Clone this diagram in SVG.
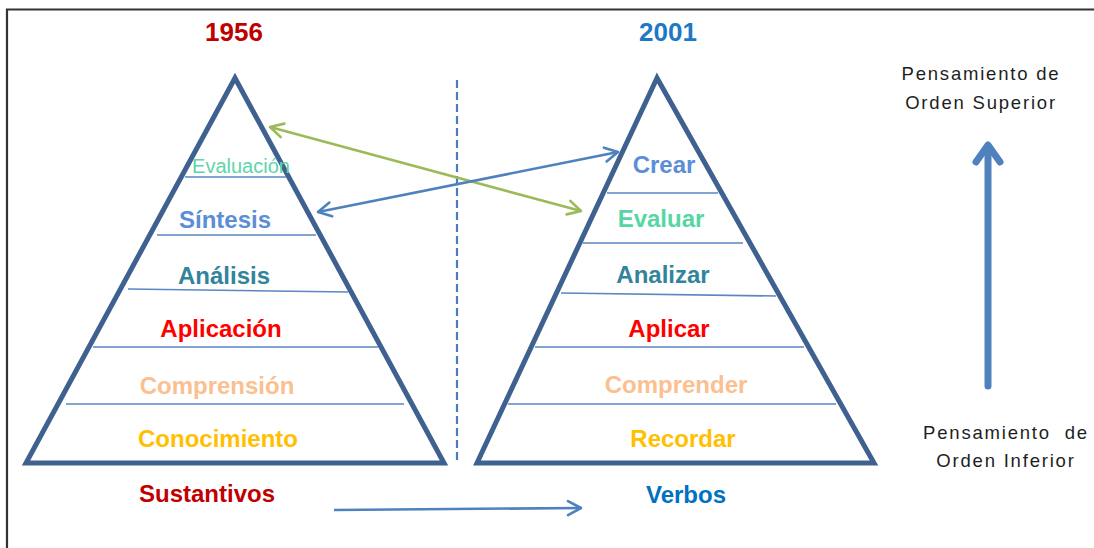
<svg xmlns="http://www.w3.org/2000/svg" width="1094" height="548" viewBox="0 0 1094 548">
  <style>
    .pyr { fill: none; stroke: #3F6190; stroke-width: 5; stroke-linejoin: miter; }
    .lvl { stroke: #5A86C2; stroke-width: 1.6; fill: none; }
    .lbl { font-family: "Liberation Sans", Arial, sans-serif; font-weight: bold; font-size: 24px; text-anchor: middle; }
    .thin { font-family: "Liberation Sans", Arial, sans-serif; font-size: 20px; text-anchor: middle; }
    .note { font-family: "Liberation Sans", Arial, sans-serif; font-size: 18.5px; letter-spacing: 1.8px; fill: #1E1E1E; text-anchor: middle; }
    .yr { font-family: "Liberation Sans", Arial, sans-serif; font-weight: bold; font-size: 26px; text-anchor: middle; }
    .conn { fill: none; stroke-width: 2.6; }
  </style>
  <defs>
    <marker id="headBlue" viewBox="-15 -9 17 18" markerWidth="17" markerHeight="18" markerUnits="userSpaceOnUse" orient="auto-start-reverse">
      <path d="M-13,-7 L0,0 L-13,7" fill="none" stroke="#4F81BD" stroke-width="2.6" stroke-linecap="round" stroke-linejoin="round"/>
    </marker>
    <marker id="headGreen" viewBox="-15 -9 17 18" markerWidth="17" markerHeight="18" markerUnits="userSpaceOnUse" orient="auto-start-reverse">
      <path d="M-13,-7 L0,0 L-13,7" fill="none" stroke="#9BBB59" stroke-width="2.6" stroke-linecap="round" stroke-linejoin="round"/>
    </marker>
  </defs>

  <rect width="1094" height="548" fill="#FFFFFF"/>

  <!-- frame: top and left edges -->
  <path d="M7,548 L7,9.5 L1094,9.5" fill="none" stroke="#333333" stroke-width="2.2"/>

  <!-- years -->
  <text class="yr" x="234" y="41" fill="#C00000">1956</text>
  <text class="yr" x="668" y="41" fill="#1E78C8">2001</text>

  <!-- divider -->
  <line x1="457" y1="80" x2="457" y2="464" stroke="#4A7EBB" stroke-width="2.2" stroke-dasharray="8,4"/>

  <!-- 1956 pyramid -->
  <g id="pyramid-1956">
    <polygon class="pyr" points="235,78 26,463 444,463"/>
    <line class="lvl" x1="185" y1="177" x2="286" y2="177"/>
    <line class="lvl" x1="157" y1="235" x2="316" y2="235"/>
    <line class="lvl" x1="128" y1="289" x2="348" y2="292"/>
    <line class="lvl" x1="93" y1="347" x2="378" y2="347"/>
    <line class="lvl" x1="66" y1="404" x2="404" y2="404"/>
  </g>
  <g id="n-evaluacion"><text class="thin" x="241" y="173" fill="#5ED5AA">Evaluación</text></g>
  <g id="n-sintesis"><text class="lbl" x="225" y="228" fill="#5B8ED6">Síntesis</text></g>
  <g id="n-analisis"><text class="lbl" x="224" y="284" fill="#31849B">Análisis</text></g>
  <g id="n-aplicacion"><text class="lbl" x="221" y="337" fill="#FF0000">Aplicación</text></g>
  <g id="n-comprension"><text class="lbl" x="217" y="394" fill="#FAC090">Comprensión</text></g>
  <g id="n-conocimiento"><text class="lbl" x="218" y="447" fill="#FFC000">Conocimiento</text></g>
  <g id="n-sustantivos"><text class="lbl" x="207" y="502" fill="#C00000">Sustantivos</text></g>

  <!-- 2001 pyramid -->
  <g id="pyramid-2001">
    <polygon class="pyr" points="657,78 477,463 874,463"/>
    <line class="lvl" x1="607" y1="193" x2="718" y2="193"/>
    <line class="lvl" x1="583" y1="243" x2="743" y2="243"/>
    <line class="lvl" x1="561" y1="293" x2="776" y2="296"/>
    <line class="lvl" x1="535" y1="347" x2="804" y2="347"/>
    <line class="lvl" x1="508" y1="404" x2="836" y2="404"/>
  </g>
  <g id="n-crear"><text class="lbl" x="664" y="173" fill="#5B8ED6">Crear</text></g>
  <g id="n-evaluar"><text class="lbl" x="661" y="227" fill="#55D6A3">Evaluar</text></g>
  <g id="n-analizar"><text class="lbl" x="663" y="283" fill="#31849B">Analizar</text></g>
  <g id="n-aplicar"><text class="lbl" x="669" y="337" fill="#FF0000">Aplicar</text></g>
  <g id="n-comprender"><text class="lbl" x="676" y="393" fill="#FAC090">Comprender</text></g>
  <g id="n-recordar"><text class="lbl" x="683" y="447" fill="#FFC000">Recordar</text></g>
  <g id="n-verbos"><text class="lbl" x="686" y="503" fill="#0070C0">Verbos</text></g>

  <!-- thinking-order notes -->
  <g id="n-superior">
    <text class="note" x="981" y="80">Pensamiento de</text>
    <text class="note" x="981" y="109">Orden Superior</text>
  </g>
  <g id="n-inferior">
    <text class="note" x="1006" y="439" xml:space="preserve">Pensamiento  de</text>
    <text class="note" x="1006" y="467">Orden Inferior</text>
  </g>

  <!-- connectors -->
  <g id="connectors">
    <line class="conn" x1="270" y1="127" x2="581" y2="211" stroke="#9BBB59" marker-start="url(#headGreen)" marker-end="url(#headGreen)"/>
    <line class="conn" x1="318" y1="212" x2="618" y2="152" stroke="#4F81BD" marker-start="url(#headBlue)" marker-end="url(#headBlue)"/>
    <line class="conn" x1="334" y1="510" x2="581" y2="508" stroke="#4F81BD" marker-end="url(#headBlue)"/>
    <g id="order-arrow" stroke="#4F81BD" stroke-width="7" stroke-linecap="round" stroke-linejoin="round" fill="none">
      <line x1="988" y1="386" x2="988" y2="147"/>
      <path d="M976,162 L988,145 L1000,162"/>
    </g>
  </g>
</svg>
